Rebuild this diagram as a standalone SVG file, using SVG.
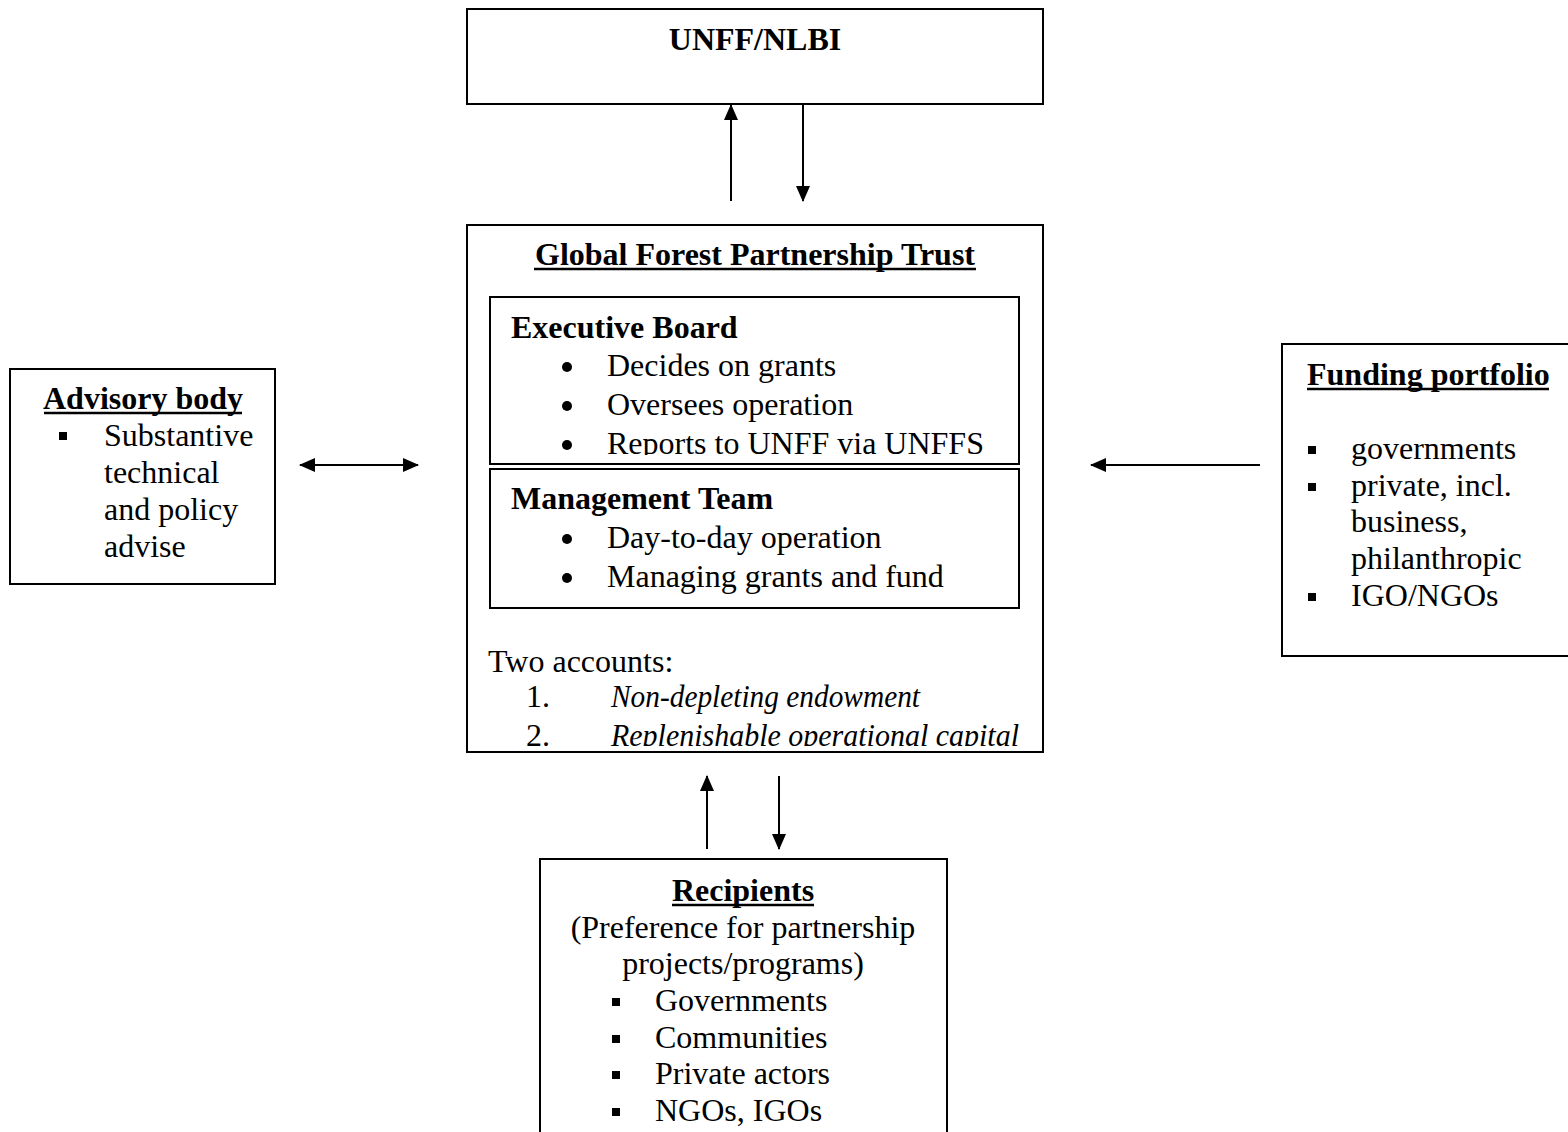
<svg xmlns="http://www.w3.org/2000/svg" width="1568" height="1132" viewBox="0 0 1568 1132">
<style>
text{font-family:"Liberation Serif","Times New Roman",serif;font-size:32px;fill:#000}
.b{font-weight:bold}
.i{font-style:italic}
.m{text-anchor:middle}
.box{fill:#fff;stroke:#000;stroke-width:2}
.ul{stroke:#000;stroke-width:2.5}
.con{stroke:#000;stroke-width:2;fill:none}
.sq{fill:#000}
</style>
<defs>
<marker id="ah" markerUnits="userSpaceOnUse" markerWidth="16" markerHeight="14" refX="15" refY="7" orient="auto-start-reverse" viewBox="0 0 16 14">
<path d="M0,0 L16,7 L0,14 Z" fill="#000"/>
</marker>
<clipPath id="cEB"><rect x="491" y="298" width="527" height="157"/></clipPath>
<clipPath id="cGF"><rect x="468" y="226" width="574" height="520"/></clipPath>
</defs>

<g id="unff">
<rect class="box" x="467" y="9" width="576" height="95"/>
<text class="b m" x="755" y="50">UNFF/NLBI</text>
</g>

<g id="gfpt">
<rect class="box" x="467" y="225" width="576" height="527"/>
<text class="b m" x="755" y="265">Global Forest Partnership Trust</text>
<line class="ul" x1="534" y1="269" x2="976" y2="269"/>
<g clip-path="url(#cGF)">
<text x="488" y="672">Two accounts:</text>
<text x="526" y="707">1.</text>
<text class="i" x="611" y="707" textLength="309" lengthAdjust="spacingAndGlyphs">Non-depleting endowment</text>
<text x="526" y="746">2.</text>
<text class="i" x="611" y="746" textLength="408" lengthAdjust="spacingAndGlyphs">Replenishable operational capital</text>
</g>
</g>

<g id="exec-board">
<rect class="box" x="490" y="297" width="529" height="167"/>
<text class="b" x="511" y="338">Executive Board</text>
<g clip-path="url(#cEB)">
<circle cx="567" cy="367" r="5"/>
<text x="607" y="376">Decides on grants</text>
<circle cx="567" cy="406" r="5"/>
<text x="607" y="415">Oversees operation</text>
<circle cx="567" cy="445" r="5"/>
<text x="607" y="454">Reports to UNFF via UNFFS</text>
</g>
</g>

<g id="mgmt-team">
<rect class="box" x="490" y="469" width="529" height="139"/>
<text class="b" x="511" y="509">Management Team</text>
<circle cx="567" cy="539" r="5"/>
<text x="607" y="548">Day-to-day operation</text>
<circle cx="567" cy="578" r="5"/>
<text x="607" y="587">Managing grants and fund</text>
</g>

<g id="advisory">
<rect class="box" x="10" y="369" width="265" height="215"/>
<text class="b m" x="143" y="409">Advisory body</text>
<line class="ul" x1="44" y1="413" x2="242" y2="413"/>
<rect class="sq" x="59" y="432" width="8" height="8"/>
<text x="104" y="446">Substantive</text>
<text x="104" y="483">technical</text>
<text x="104" y="520">and policy</text>
<text x="104" y="557">advise</text>
</g>

<g id="funding">
<rect class="box" x="1282" y="344" width="300" height="312"/>
<text class="b" x="1307" y="385">Funding portfolio</text>
<line class="ul" x1="1307" y1="389" x2="1549" y2="389"/>
<rect class="sq" x="1308" y="446" width="8" height="8"/>
<text x="1351" y="459">governments</text>
<rect class="sq" x="1308" y="483" width="8" height="8"/>
<text x="1351" y="496">private, incl.</text>
<text x="1351" y="532">business,</text>
<text x="1351" y="569">philanthropic</text>
<rect class="sq" x="1308" y="593" width="8" height="8"/>
<text x="1351" y="606">IGO/NGOs</text>
</g>

<g id="recipients">
<rect class="box" x="540" y="859" width="407" height="300"/>
<text class="b m" x="743" y="901">Recipients</text>
<line class="ul" x1="672" y1="905" x2="814" y2="905"/>
<text class="m" x="743" y="938">(Preference for partnership</text>
<text class="m" x="743" y="974">projects/programs)</text>
<rect class="sq" x="612" y="998" width="8" height="8"/>
<text x="655" y="1011">Governments</text>
<rect class="sq" x="612" y="1035" width="8" height="8"/>
<text x="655" y="1048">Communities</text>
<rect class="sq" x="612" y="1071" width="8" height="8"/>
<text x="655" y="1084">Private actors</text>
<rect class="sq" x="612" y="1108" width="8" height="8"/>
<text x="655" y="1121">NGOs, IGOs</text>
</g>

<g id="connectors">
<line class="con" x1="731" y1="201" x2="731" y2="105" marker-end="url(#ah)"/>
<line class="con" x1="803" y1="105" x2="803" y2="201" marker-end="url(#ah)"/>
<line class="con" x1="300" y1="465" x2="418" y2="465" marker-start="url(#ah)" marker-end="url(#ah)"/>
<line class="con" x1="1260" y1="465" x2="1091" y2="465" marker-end="url(#ah)"/>
<line class="con" x1="707" y1="849" x2="707" y2="776" marker-end="url(#ah)"/>
<line class="con" x1="779" y1="776" x2="779" y2="849" marker-end="url(#ah)"/>
</g>
</svg>
